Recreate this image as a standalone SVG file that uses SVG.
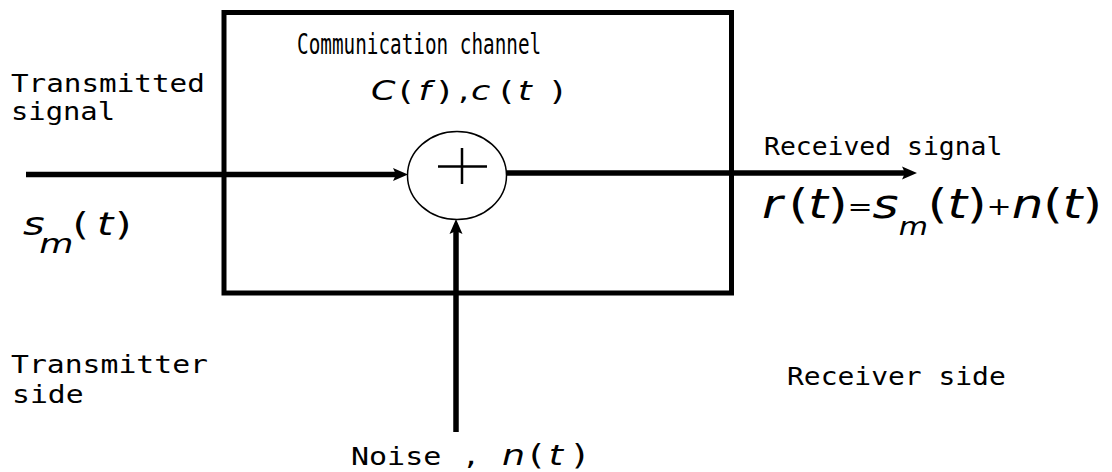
<svg xmlns="http://www.w3.org/2000/svg" width="1112" height="472" viewBox="0 0 1112 472">
<style>
.lbl{font-family:"DejaVu Sans Mono","Liberation Mono",monospace;fill:#000;font-size:24px}
.m{font-family:"DejaVu Sans","Liberation Sans",sans-serif;fill:#000;font-style:italic}
.p{font-style:normal}
.wire{stroke:#000;stroke-width:5.5;fill:none}
</style>
<defs>
<marker id="ah" markerUnits="userSpaceOnUse" markerWidth="16" markerHeight="14" refX="7" refY="7" orient="auto">
<path d="M0,0.5 L15,7 L0,13.5 L3,7 z" fill="#000"/>
</marker>
</defs>
<rect width="1112" height="472" fill="#fff"/>
<g id="channel">
<rect x="224" y="12.5" width="507.5" height="280.5" fill="none" stroke="#000" stroke-width="5"/>
<text class="lbl" transform="translate(297,54) scale(0.69,1)" x="0" y="0" style="font-size:28px">Communication channel</text>
<text class="m" transform="translate(371,100) scale(1.3,1)" y="0" font-size="27"><tspan x="0">C</tspan><tspan class="p" x="21.5">(</tspan><tspan x="36.5">f</tspan><tspan class="p" x="51">)</tspan><tspan class="p" x="67">,</tspan><tspan x="77">c</tspan><tspan class="p" x="99">(</tspan><tspan x="113">t</tspan><tspan class="p" x="138">)</tspan></text>
</g>
<g id="connectors">
<line class="wire" x1="26" y1="174.5" x2="400" y2="174.5" marker-end="url(#ah)"/>
<line class="wire" x1="507" y1="173" x2="909" y2="173" marker-end="url(#ah)"/>
<line class="wire" x1="456" y1="432" x2="456" y2="227" marker-end="url(#ah)"/>
</g>
<g id="adder">
<ellipse cx="457" cy="175.5" rx="49.5" ry="44" fill="#fff" stroke="#000" stroke-width="1.5"/>
<line x1="438" y1="166.5" x2="487" y2="166.5" stroke="#000" stroke-width="2.5"/>
<line x1="462" y1="148" x2="462" y2="184" stroke="#000" stroke-width="2.5"/>
</g>
<g id="transmitter">
<text class="lbl" transform="translate(11,92) scale(1.22,1)">Transmitted</text>
<text class="lbl" transform="translate(11,120) scale(1.2,1)">signal</text>
<text class="m" transform="translate(23,235) scale(1.3,1)" font-size="32"><tspan x="0">s</tspan><tspan x="12.5" y="18" font-size="27">m</tspan><tspan class="p" x="38" y="0">(</tspan><tspan x="57">t</tspan><tspan class="p" x="71">)</tspan></text>
<text class="lbl" transform="translate(11,373) scale(1.24,1)">Transmitter</text>
<text class="lbl" transform="translate(12,403) scale(1.24,1)">side</text>
</g>
<g id="receiver">
<text class="lbl" transform="translate(764,155) scale(1.1,1)">Received signal</text>
<text class="m" transform="translate(762,218) scale(1.25,1)" font-size="40"><tspan>r</tspan><tspan class="p" dx="5">(</tspan><tspan>t</tspan><tspan class="p">)</tspan><tspan class="p" y="-3" font-size="24">=</tspan><tspan y="0">s</tspan><tspan y="17" font-size="24">m</tspan><tspan class="p" y="0">(</tspan><tspan>t</tspan><tspan class="p">)</tspan><tspan class="p" y="-3" font-size="24">+</tspan><tspan y="0">n</tspan><tspan class="p">(</tspan><tspan>t</tspan><tspan class="p">)</tspan></text>
<text class="lbl" transform="translate(787,385) scale(1.165,1)">Receiver side</text>
</g>
<g id="noise">
<text class="lbl" transform="translate(351,465) scale(1.2,1)" style="font-size:25px">Noise</text>
<text class="lbl" transform="translate(462,465) scale(1.2,1)" style="font-size:25px">,</text>
<text class="m" transform="translate(502,465) scale(1.3,1)" font-size="28"><tspan x="0">n</tspan><tspan class="p" x="21">(</tspan><tspan x="36">t</tspan><tspan class="p" x="54">)</tspan></text>
</g>
</svg>
